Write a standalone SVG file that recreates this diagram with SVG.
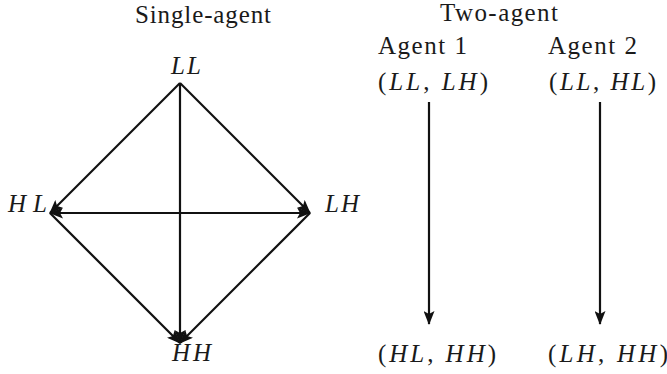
<svg xmlns="http://www.w3.org/2000/svg" width="667" height="374" viewBox="0 0 667 374">
<style>
text{font-family:"Liberation Serif","Times New Roman",serif;font-size:25px;fill:#1a1a1a}
.m{font-style:italic}
.u{font-style:normal}
.e{stroke:#111;stroke-width:2.2;fill:none}
</style>
<defs>
<marker id="ah" viewBox="0 0 14 11" refX="13" refY="5.5" markerWidth="14" markerHeight="11" markerUnits="userSpaceOnUse" orient="auto-start-reverse">
<path d="M0,0 L14,5.5 L0,11 L3,5.5 z" fill="#111"/>
</marker>
</defs>
<rect width="667" height="374" fill="#fff"/>
<g id="titles">
<text x="135" y="23" textLength="136">Single-agent</text>
<text x="440" y="21" textLength="118">Two-agent</text>
<text x="378" y="54" textLength="89">Agent 1</text>
<text x="548" y="54" textLength="89">Agent 2</text>
</g>
<g id="node-LL"><text class="m" x="171" y="74" textLength="30">LL</text></g>
<g id="node-HL"><text class="m" x="8" y="212" textLength="39">HL</text></g>
<g id="node-LH"><text class="m" x="325" y="212" textLength="34">LH</text></g>
<g id="node-HH"><text class="m" x="172" y="361" textLength="39">HH</text></g>
<g id="node-a1-start"><text x="378" y="90" textLength="110"><tspan class="u">(</tspan><tspan class="m">LL</tspan><tspan class="u">, </tspan><tspan class="m">LH</tspan><tspan class="u">)</tspan></text></g>
<g id="node-a2-start"><text x="549" y="90" textLength="107"><tspan class="u">(</tspan><tspan class="m">LL</tspan><tspan class="u">, </tspan><tspan class="m">HL</tspan><tspan class="u">)</tspan></text></g>
<g id="node-a1-end"><text x="378" y="362" textLength="118"><tspan class="u">(</tspan><tspan class="m">HL</tspan><tspan class="u">, </tspan><tspan class="m">HH</tspan><tspan class="u">)</tspan></text></g>
<g id="node-a2-end"><text x="548" y="362" textLength="120"><tspan class="u">(</tspan><tspan class="m">LH</tspan><tspan class="u">, </tspan><tspan class="m">HH</tspan><tspan class="u">)</tspan></text></g>
<g id="connectors">
<line class="e" x1="180" y1="83" x2="50" y2="213" marker-end="url(#ah)"/>
<line class="e" x1="180" y1="83" x2="310" y2="213" marker-end="url(#ah)"/>
<line class="e" x1="180" y1="83" x2="180" y2="343" marker-end="url(#ah)"/>
<line class="e" x1="50" y1="213" x2="310" y2="213" marker-start="url(#ah)" marker-end="url(#ah)"/>
<line class="e" x1="50" y1="213" x2="180" y2="343" marker-end="url(#ah)"/>
<line class="e" x1="310" y1="213" x2="180" y2="343" marker-end="url(#ah)"/>
<line class="e" x1="429" y1="102" x2="429" y2="324" marker-end="url(#ah)"/>
<line class="e" x1="600" y1="102" x2="600" y2="324" marker-end="url(#ah)"/>
</g>
</svg>
